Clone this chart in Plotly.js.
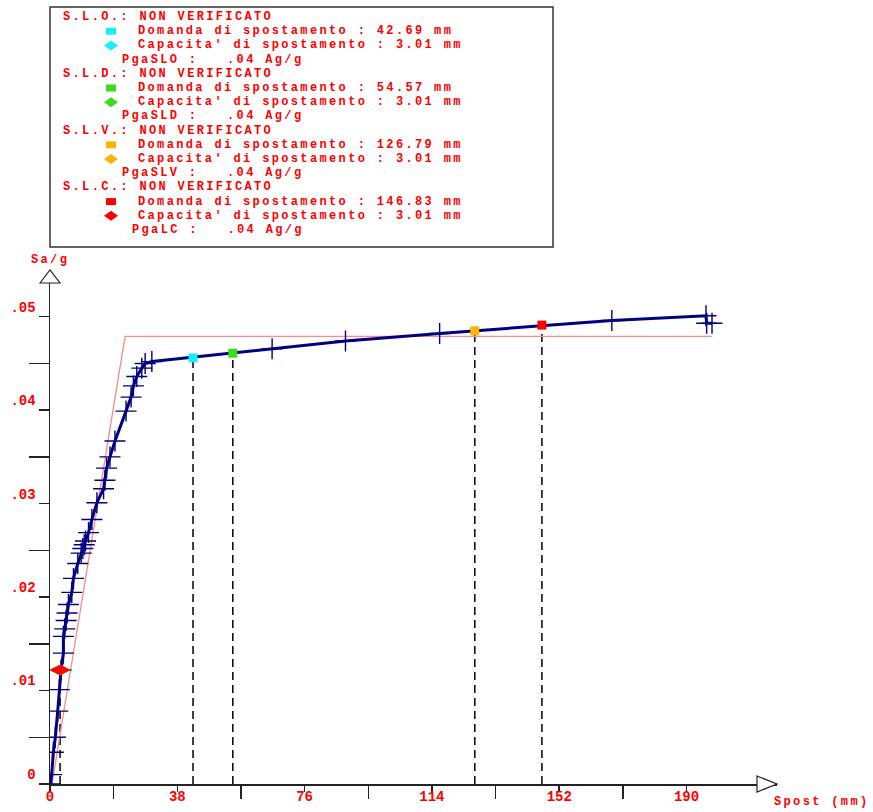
<!DOCTYPE html>
<html><head><meta charset="utf-8">
<script src="https://cdn.plot.ly/plotly-3.0.1.min.js"></script>
<style>
html,body{margin:0;padding:0;background:#fff;}
#chart{width:873px;height:812px;}
.annotation-text{letter-spacing:2.35px;}
</style></head><body><div id="chart"></div>
<script>
// ---- data ----
const curveX = [0, 0.5, 1.0, 1.6, 2.3, 2.8, 3.3, 4.0, 4.0, 4.4, 4.8, 5.1, 5.5, 6.5, 7.0, 8.3, 9.3, 9.8, 10.2, 10.6, 11.5, 12.5, 14.0, 16.0, 16.4, 16.9, 17.9, 19.4, 22.7, 24.2, 24.9, 25.9, 27.4, 28.4, 30.4, 66.3, 88.2, 116.3, 167.7, 195.8, 196.0, 197.6];
const curveY = [0, 0.001, 0.0034, 0.005, 0.0078, 0.0101, 0.0122, 0.014, 0.0158, 0.0166, 0.0175, 0.0183, 0.0192, 0.0205, 0.022, 0.0236, 0.0247, 0.0252, 0.0256, 0.026, 0.0269, 0.0283, 0.0301, 0.0316, 0.0325, 0.0338, 0.035, 0.0367, 0.0399, 0.0414, 0.0426, 0.0436, 0.0445, 0.045, 0.0452, 0.04657, 0.0474, 0.0482, 0.0496, 0.0501, 0.0493, 0.0493];
const bilinX = [0.6, 22.4, 197.5];
const bilinY = [0, 0.0479, 0.0479];
const states = ["S.L.O.", "S.L.D.", "S.L.V.", "S.L.C."];
const verdicts = ["NON VERIFICATO", "NON VERIFICATO", "NON VERIFICATO", "NON VERIFICATO"];
const pgaNames = ["PgaSLO", "PgaSLD", "PgaSLV", "PgaLC"];
const pgaValues = [".04", ".04", ".04", ".04"];
const demandX = [42.69, 54.57, 126.79, 146.83];
const demandY = [0.0456, 0.0461, 0.0485, 0.0491];
const capacityX = [3.01, 3.01, 3.01, 3.01];
const capacityY = [0.0122, 0.0122, 0.0122, 0.0122];
const stateColors = ["#19eeff", "#3ddc1a", "#ffb400", "#ff0000"];
const xTickVals = [0, 38, 76, 114, 152, 190];
const xTickText = ["0", "38", "76", "114", "152", "190"];
const xMinorVals = [19, 57, 95, 133, 171];
const yTickVals = [0, 0.01, 0.02, 0.03, 0.04, 0.05];
const yTickText = ["0", ".01", ".02", ".03", ".04", ".05"];
const yMinorVals = [0.005, 0.015, 0.025, 0.035, 0.045];

// ---- layout helpers (pixel -> paper) ----
const L = 50, T = 270, W = 727, H = 514;
const PX = p => (p - L) / W;
const PY = p => (T + H - p) / H;
const RED = '#ff0000';
const FONT = 'Liberation Mono, DejaVu Sans Mono, monospace';

const traces = [];
// dashed verticals
for (let i = 0; i < demandX.length; i++) {
  traces.push({x: [demandX[i], demandX[i]], y: [0, demandY[i]], mode: 'lines',
    line: {color: '#111', width: 1.6, dash: '8px,5px'}, hoverinfo: 'skip'});
}
traces.push({x: [capacityX[0], capacityX[0]], y: [0, capacityY[0]], mode: 'lines',
  line: {color: '#111', width: 1.6, dash: '8px,5px'}, hoverinfo: 'skip'});
// bilinear
traces.push({x: bilinX, y: bilinY, mode: 'lines', line: {color: '#ff8a8a', width: 1.3}});
// capacity curve
traces.push({x: curveX, y: curveY, mode: 'lines+markers',
  line: {color: '#000080', width: 3},
  marker: {symbol: 'cross-thin-open', size: 15, line: {color: 'rgba(0,0,128,0.7)', width: 1.4}}});
// demand squares and capacity diamonds
for (let i = 0; i < demandX.length; i++) {
  traces.push({x: [demandX[i]], y: [demandY[i]], mode: 'markers',
    marker: {symbol: 'square', size: 9, color: stateColors[i]}});
}
for (let i = 0; i < capacityX.length; i++) {
  traces.push({x: [capacityX[i]], y: [capacityY[i]], mode: 'markers',
    marker: {symbol: 'diamond-wide', size: 15, color: stateColors[i]}});
}

// ---- legend box text ----
const annotations = [];
const shapes = [];
const lineH = 14.2, y0 = 17;
function addText(txt, xpx, ypx) {
  annotations.push({xref: 'paper', yref: 'paper', x: PX(xpx), y: PY(ypx), xanchor: 'left', yanchor: 'middle',
    align: 'left', showarrow: false, borderpad: 0, text: txt,
    font: {family: FONT, size: 12, color: RED, weight: 'bold'}});
}
const nb = '\u00a0';
for (let i = 0; i < states.length; i++) {
  const base = y0 + i * 4 * lineH;
  addText(states[i] + ':' + nb + verdicts[i], 62, base);
  addText('Domanda di spostamento : ' + demandX[i].toFixed(2) + ' mm', 137, base + lineH);
  addText("Capacita' di spostamento : " + capacityX[i].toFixed(2) + ' mm', 137, base + 2 * lineH);
  const pgaX = 188 - (pgaNames[i].length + 1) * 9.55;
  addText(pgaNames[i] + nb + ':' + nb + nb + nb + pgaValues[i] + ' Ag/g', pgaX, base + 3 * lineH);
  // legend symbols
  const sy = base + lineH, dy = base + 2 * lineH;
  shapes.push({type: 'rect', xref: 'paper', yref: 'paper', x0: PX(106), x1: PX(116), y0: PY(sy + 3.5), y1: PY(sy - 3.5),
    fillcolor: stateColors[i], line: {width: 0}});
  shapes.push({type: 'path', xref: 'paper', yref: 'paper',
    path: `M ${PX(104)} ${PY(dy)} L ${PX(111)} ${PY(dy - 5)} L ${PX(118)} ${PY(dy)} L ${PX(111)} ${PY(dy + 5)} Z`,
    fillcolor: stateColors[i], line: {width: 0}});
}
shapes.push({type: 'rect', xref: 'paper', yref: 'paper', x0: PX(50), x1: PX(553), y0: PY(247), y1: PY(7),
  line: {color: '#333', width: 1.5}, fillcolor: 'rgba(0,0,0,0)'});
// axis arrows
shapes.push({type: 'path', xref: 'paper', yref: 'paper', layer: 'above',
  path: `M ${PX(40)} ${PY(283)} L ${PX(50)} ${PY(270)} L ${PX(60)} ${PY(283)} Z`,
  fillcolor: '#fff', line: {color: '#222', width: 1.2}});
shapes.push({type: 'path', xref: 'paper', yref: 'paper', layer: 'above',
  path: `M ${PX(757)} ${PY(776)} L ${PX(777)} ${PY(784)} L ${PX(757)} ${PY(792)} Z`,
  fillcolor: '#fff', line: {color: '#222', width: 1.2}});
// axis titles
annotations.push({xref: 'paper', yref: 'paper', x: PX(50), y: PY(260), xanchor: 'center', yanchor: 'middle',
  showarrow: false, borderpad: 0, text: 'Sa/g', font: {family: FONT, size: 12, color: RED, weight: 'bold'}});
annotations.push({xref: 'paper', yref: 'paper', x: PX(822), y: PY(802), xanchor: 'center', yanchor: 'middle',
  showarrow: false, borderpad: 0, text: 'Spost (mm)', font: {family: FONT, size: 12, color: RED, weight: 'bold'}});

const tickFont = {family: FONT, size: 14, color: RED, weight: 'bold'};
const layout = {
  width: 873, height: 812,
  margin: {l: L, r: 873 - L - W, t: T, b: 812 - T - H, pad: 0},
  paper_bgcolor: '#fff', plot_bgcolor: '#fff',
  showlegend: false, hovermode: false,
  xaxis: {range: [0, 217], showline: true, linecolor: '#222', linewidth: 1.5, showgrid: false, zeroline: false,
    ticks: 'outside', ticklen: 6, tickwidth: 1.5, tickcolor: '#222', tickmode: 'array',
    tickvals: xTickVals, ticktext: xTickText, tickfont: tickFont, ticklabelstandoff: -7,
    minor: {tickmode: 'array', tickvals: xMinorVals, ticks: 'outside', ticklen: 13, tickwidth: 1.5, tickcolor: '#222', showgrid: false}},
  yaxis: {range: [0, 0.055], showline: true, linecolor: '#222', linewidth: 1.5, showgrid: false, zeroline: false,
    ticks: 'outside', ticklen: 10, tickwidth: 1.5, tickcolor: '#222', tickmode: 'array',
    tickvals: yTickVals, ticktext: yTickText, tickfont: tickFont, ticklabelshift: -10,
    minor: {tickmode: 'array', tickvals: yMinorVals, ticks: 'outside', ticklen: 20, tickwidth: 1.5, tickcolor: '#222', showgrid: false}},
  annotations: annotations,
  shapes: shapes
};
Plotly.newPlot('chart', traces, layout, {displayModeBar: false, staticPlot: true});
</script></body></html>
